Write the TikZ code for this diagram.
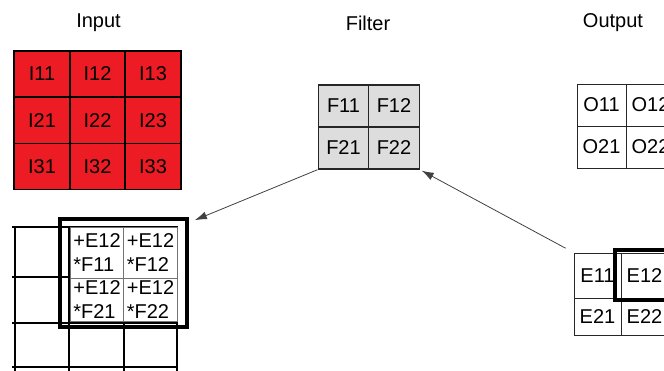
\documentclass[tikz,border=0pt]{standalone}
\usepackage{fontspec}
\setmainfont{Liberation Sans}
\usetikzlibrary{arrows.meta}

\definecolor{inred}{HTML}{ED1C24}
\definecolor{filtgray}{HTML}{DDDDDD}
\definecolor{arrgray}{HTML}{404040}

\tikzstyle{heading} = [font=\fontsize{20}{24}\selectfont,anchor=base]
\tikzstyle{incell} = [draw=black,line width=1.6pt,fill=inred,minimum width=55.5pt,minimum height=46pt,inner sep=0pt,font=\fontsize{20}{24}\selectfont]
\tikzstyle{fcell} = [draw=black!85,line width=1.4pt,fill=filtgray,minimum width=50.5pt,minimum height=42pt,inner sep=0pt,font=\fontsize{20}{24}\selectfont]
\tikzstyle{ocell} = [draw=black!85,line width=1pt,minimum width=49pt,minimum height=42pt,inner sep=0pt,font=\fontsize{20}{24}\selectfont]
\tikzstyle{ecell} = [draw=black!85,line width=1pt,minimum width=47pt,inner sep=0pt,font=\fontsize{20}{24}\selectfont]
\tikzstyle{pcell} = [draw=black!55,line width=0.8pt,fill=white,minimum width=53.5pt,inner sep=1pt,align=left,font=\fontsize{20}{24}\selectfont]
\tikzstyle{gridline} = [black,line width=1.5pt]
\tikzstyle{window} = [draw=black,line width=3.8pt,inner sep=0pt]
\tikzstyle{arr} = [arrgray,line width=0.8pt,-{Latex[length=12pt,width=8pt]}]

\begin{document}
\begin{tikzpicture}[x=1pt,y=-1pt]
	\clip (0,0) rectangle (664,370);

	% titles
	\node[heading] (tin) at (98.5,27) {Input};
	\node[heading] (tfilt) at (368,30) {Filter};
	\node[heading] (tout) at (613,27) {Output};

	% input
	\node[incell] (i11) at (42,74) {I11};
	\node[incell] (i12) at (97.5,74) {I12};
	\node[incell] (i13) at (153,74) {I13};
	\node[incell] (i21) at (42,120.5) {I21};
	\node[incell] (i22) at (97.5,120.5) {I22};
	\node[incell] (i23) at (153,120.5) {I23};
	\node[incell] (i31) at (42,166.5) {I31};
	\node[incell] (i32) at (97.5,166.5) {I32};
	\node[incell] (i33) at (153,166.5) {I33};

	% filter
	\node[fcell] (f11) at (343.5,106) {F11};
	\node[fcell] (f12) at (394,106) {F12};
	\node[fcell] (f21) at (343.5,148) {F21};
	\node[fcell] (f22) at (394,148) {F22};

	% output
	\node[ocell] (o11) at (601.5,105) {O11};
	\node[ocell] (o12) at (650.5,105) {O12};
	\node[ocell] (o21) at (601.5,147) {O21};
	\node[ocell] (o22) at (650.5,147) {O22};

	% error
	\node[ecell,minimum height=45pt] (e11) at (597.5,275.5) {E11};
	\node[ecell,minimum height=45pt] (e12) at (644.5,275.5) {E12};
	\node[ecell,minimum height=37pt] (e21) at (597.5,316.5) {E21};
	\node[ecell,minimum height=37pt] (e22) at (644.5,316.5) {E22};
	\node[window,minimum width=90pt,minimum height=50pt] (ewin) at (660,275) {};

	% gradient grid
	\draw[gridline] (12,227) -- (178,227);
	\draw[gridline] (12,277) -- (178,277);
	\draw[gridline] (12,323) -- (178,323);
	\draw[gridline] (12,367) -- (178,367);
	\draw[gridline] (15,227) -- (15,372);
	\draw[gridline] (69,227) -- (69,372);
	\draw[gridline] (124,227) -- (124,372);
	\draw[gridline] (177,227) -- (177,372);

	\node[pcell,minimum height=51pt] (p11) at (97,252.5) {+E12\\*F11};
	\node[pcell,minimum height=51pt] (p12) at (150.5,252.5) {+E12\\*F12};
	\node[pcell,minimum height=43pt] (p21) at (97,299.5) {+E12\\*F21};
	\node[pcell,minimum height=43pt] (p22) at (150.5,299.5) {+E12\\*F22};
	\node[window,minimum width=127pt,minimum height=108pt] (win) at (123.5,273) {};

	% arrows
	\draw[arr] (f21.south west) -- ([shift={(6,3)}]win.north east);
	\draw[arr,shorten <=9pt,shorten >=2pt] (e11.north west) -- (f22.south east);
\end{tikzpicture}
\end{document}
